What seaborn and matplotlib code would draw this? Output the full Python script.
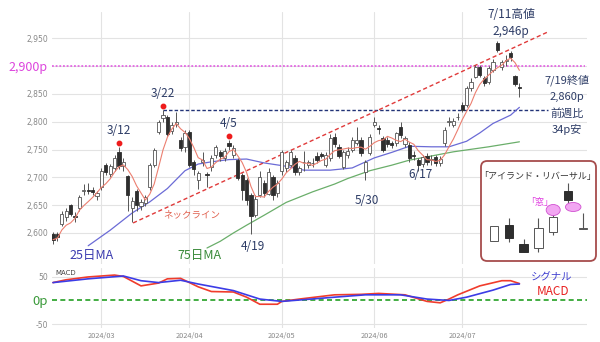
import numpy as np
import pandas as pd
import matplotlib
matplotlib.use("Agg")
import matplotlib.pyplot as plt
import seaborn as sns
from matplotlib.patches import Ellipse, FancyBboxPatch

sns.set_theme(style="whitegrid")
plt.rcParams['font.family'] = ['Noto Sans CJK JP', 'DejaVu Sans']

# ---------------- data (daily candles, trading-day index 0 = 2024/02/14) -------------
open_ = [
    2598, 2598, 2617, 2628, 2650, 2631, 2645, 2675, 2677, 2678,
    2666, 2682, 2722, 2706, 2716, 2746, 2720, 2702, 2645, 2676,
    2648, 2654, 2683, 2722, 2782, 2807, 2808, 2783, 2796, 2767,
    2755, 2782, 2728, 2695, 2728, 2706, 2719, 2740, 2745, 2735,
    2762, 2740, 2731, 2704, 2695, 2668, 2632, 2668, 2690, 2670,
    2700, 2672, 2712, 2716, 2722, 2734, 2710, 2727, 2722, 2725,
    2739, 2742, 2722, 2734, 2773, 2754, 2719, 2740, 2749, 2762,
    2767, 2710, 2743, 2794, 2789, 2770, 2767, 2761, 2761, 2791,
    2760, 2758, 2740, 2731, 2724, 2738, 2731, 2737, 2725, 2761,
    2800, 2795, 2808, 2830, 2830, 2860, 2881, 2899, 2878, 2872,
    2893, 2941, 2899, 2910, 2924, 2882, 2862]
high = [
    2602, 2601, 2640, 2645, 2653, 2638, 2668, 2688, 2690, 2682,
    2676, 2716, 2726, 2724, 2740, 2755, 2735, 2705, 2665, 2680,
    2662, 2668, 2726, 2752, 2803, 2822, 2812, 2800, 2818, 2772,
    2785, 2786, 2732, 2712, 2745, 2710, 2740, 2758, 2750, 2752,
    2768, 2758, 2735, 2708, 2698, 2672, 2668, 2712, 2696, 2716,
    2704, 2695, 2750, 2732, 2750, 2740, 2720, 2748, 2732, 2735,
    2745, 2746, 2745, 2778, 2780, 2760, 2750, 2755, 2772, 2790,
    2772, 2732, 2778, 2808, 2795, 2775, 2772, 2765, 2782, 2800,
    2775, 2763, 2748, 2735, 2740, 2743, 2741, 2741, 2738, 2790,
    2808, 2806, 2815, 2835, 2864, 2878, 2902, 2903, 2883, 2900,
    2913, 2946, 2912, 2920, 2928, 2885, 2870]
low = [
    2580, 2586, 2612, 2622, 2630, 2620, 2640, 2668, 2670, 2668,
    2660, 2678, 2705, 2700, 2712, 2715, 2712, 2640, 2620, 2640,
    2642, 2648, 2678, 2718, 2778, 2800, 2775, 2778, 2790, 2748,
    2745, 2718, 2705, 2680, 2720, 2683, 2712, 2735, 2730, 2730,
    2750, 2735, 2695, 2660, 2650, 2598, 2628, 2664, 2665, 2668,
    2660, 2665, 2705, 2710, 2718, 2705, 2705, 2712, 2716, 2718,
    2726, 2735, 2718, 2730, 2755, 2735, 2715, 2735, 2745, 2758,
    2738, 2695, 2740, 2790, 2778, 2745, 2755, 2752, 2756, 2770,
    2755, 2728, 2731, 2712, 2718, 2723, 2723, 2721, 2721, 2756,
    2792, 2790, 2803, 2818, 2826, 2855, 2878, 2880, 2865, 2868,
    2890, 2925, 2893, 2900, 2910, 2865, 2845]
close = [
    2588, 2593, 2635, 2640, 2635, 2629, 2665, 2677, 2676, 2673,
    2672, 2712, 2710, 2720, 2734, 2720, 2728, 2668, 2658, 2650,
    2656, 2664, 2722, 2749, 2800, 2812, 2778, 2795, 2800, 2752,
    2780, 2722, 2715, 2708, 2731, 2704, 2735, 2755, 2738, 2748,
    2756, 2753, 2699, 2677, 2659, 2630, 2662, 2700, 2672, 2710,
    2668, 2690, 2745, 2728, 2746, 2709, 2716, 2728, 2728, 2726,
    2731, 2739, 2740, 2770, 2760, 2739, 2746, 2748, 2767, 2768,
    2743, 2728, 2773, 2800, 2787, 2749, 2760, 2758, 2779, 2776,
    2770, 2734, 2739, 2722, 2736, 2728, 2732, 2725, 2733, 2785,
    2801, 2801, 2809, 2822, 2860, 2872, 2899, 2884, 2869, 2896,
    2908, 2929, 2907, 2911, 2917, 2868, 2860]

month_idx = [11, 31, 52, 73, 93]
month_labels = ["2024/03", "2024/04", "2024/05", "2024/06", "2024/07"]

ma25_idx = [8, 13, 18, 22, 26, 30, 33, 36, 40, 44, 48, 53, 57, 63, 68, 73, 77, 81, 86, 90, 94, 97, 100, 104, 106]
ma25_val = [2577, 2605, 2636, 2656, 2680, 2712, 2724, 2728, 2732, 2733, 2726, 2720, 2713, 2713, 2717, 2735, 2745, 2756, 2755, 2755, 2765, 2780, 2797, 2812, 2826]

ma75_idx = [35, 38, 41, 44, 48, 53, 59, 64, 67, 72, 77, 81, 91, 99, 106]
ma75_val = [2573, 2585, 2600, 2614, 2632, 2655, 2674, 2688, 2698, 2712, 2722, 2731, 2746, 2755, 2764]

macd_idx = [0, 3, 8, 14, 16, 20, 24, 26, 29, 33, 36, 41, 44, 47, 51, 52, 56, 64, 70, 74, 80, 85, 88, 90, 92, 97, 102, 104, 106]
macd_val = [38, 44, 50, 54, 51, 31, 37, 46, 47, 29, 19, 18, 7, -8, -8, -2, 3, 12, 13, 15, 12, -2, -5, 3, 12, 31, 42, 42, 36]
sig_idx = [0, 8, 16, 20, 24, 29, 33, 41, 47, 52, 56, 64, 71, 79, 85, 90, 94, 100, 104, 106]
sig_val = [38, 46, 52, 42, 38, 43, 35, 21, 3, -2, 1, 7, 12, 12, 3, 0, 7, 22, 34, 35]

price_ticks = [2600, 2650, 2700, 2750, 2800, 2850, 2900, 2950]
price_labels = ["2,600", "2,650", "2,700", "2,750", "2,800", "2,850", "2,900p", "2,950"]

peak_idx = [15, 25, 40]
peak_labels = ["3/12", "3/22", "4/5"]
neck_idx = [18.2, 112.3]
neck_val = [2618, 2961]
resist_level = 2822
resist_span = [25, 112.5]
target_level = 2900

# inset illustration (island reversal)
mini_open = [59, 75, 56, 52, 68, 109, 71]
mini_high = [74, 82, 61, 82, 91, 117, 87]
mini_low = [59, 58, 48, 48, 65, 97, 71]
mini_close = [74, 62, 48, 72, 83, 100, 71]

# ---------------- figure ----------------
W, H = 600, 342
fig = plt.figure(figsize=(6, 3.42), dpi=100)
fig.patch.set_facecolor("white")

x0_px, x1_px = 52, 587
ax = fig.add_axes([x0_px / W, 1 - 264 / H, (x1_px - x0_px) / W, 252 / H])
axm = fig.add_axes([x0_px / W, 1 - 328 / H, (x1_px - x0_px) / W, 60 / H])

def P(x, y):
    """reference pixel -> data coords of price axes (for text placement)"""
    return (x - 53) / 4.4, 2600 + (233 - y) / 0.5571

xlim = ((x0_px - 53) / 4.4, (x1_px - 53) / 4.4)
ax.set_xlim(*xlim)
ax.set_ylim(2544.2, 2997.5)
axm.set_xlim(*xlim)
axm.set_ylim(-58.5, 69)

grid_c = "#e3e3e3"
for a in (ax, axm):
    a.set_facecolor("white")
    for s in a.spines.values():
        s.set_visible(False)
    a.grid(True, color=grid_c, lw=0.8)
    a.tick_params(length=0)
    a.set_xticks(month_idx)
    a.set_axisbelow(True)

ax.set_xticklabels([])
ax.set_yticks(price_ticks)
ax.set_yticklabels(price_labels)
ax.tick_params(axis="y", pad=3, labelsize=5.5, labelcolor="#888888")
for t in ax.get_yticklabels():
    t.set_family(["DejaVu Sans"])
    if t.get_text() == "2,900p":
        t.set_color("#dd44dd")
        t.set_fontsize(9)
        t.set_family(["Noto Sans CJK JP", "DejaVu Sans"])

axm.set_xticklabels(month_labels)
axm.tick_params(axis="x", pad=3, labelsize=5.3, labelcolor="#888888")
axm.set_yticks([-50, 0, 50])
axm.set_yticklabels(["-50", "0p", "50"])
axm.tick_params(axis="y", pad=3, labelsize=5.5, labelcolor="#888888")
for t in axm.get_yticklabels():
    t.set_family(["DejaVu Sans"])
    if t.get_text() == "0p":
        t.set_color("#3a9a3a")
        t.set_fontsize(9.5)
        t.set_family(["Noto Sans CJK JP", "DejaVu Sans"])
axm.yaxis.get_gridlines()[1].set_visible(False)

# ---------------- price panel ----------------
df = pd.DataFrame({"i": np.arange(len(close)), "open": open_, "high": high,
                   "low": low, "close": close})
df["ma5"] = df["close"].rolling(5, min_periods=1).mean()

# reference lines
ax.plot([xlim[0], 120.9], [target_level] * 2, color="#e050e0", lw=1.1,
        ls=(0, (1.2, 1.2)), zorder=2)
ax.plot(resist_span, [resist_level] * 2, color="#223377", lw=1.0,
        ls=(0, (2.5, 1.5)), zorder=2)
ax.plot(neck_idx, neck_val, color="#e03a3a", lw=1.0, ls=(0, (3, 2)), zorder=2)

sns.lineplot(x=ma75_idx, y=ma75_val, ax=ax, color="#6aae6a", lw=0.9, zorder=3)
sns.lineplot(x=ma25_idx, y=ma25_val, ax=ax, color="#6b6bd6", lw=0.9, zorder=3)

# candles
up = df["close"] >= df["open"]
ax.vlines(df["i"], df["low"], df["high"], color="#555555", lw=0.7, zorder=4)
body_lo = np.minimum(df["open"], df["close"])
body_h = np.maximum(np.abs(df["close"] - df["open"]), 1.2)
ax.bar(df["i"][up], body_h[up], bottom=body_lo[up], width=0.7,
       color="white", edgecolor="#555555", lw=0.6, zorder=5)
ax.bar(df["i"][~up], body_h[~up], bottom=body_lo[~up], width=0.7,
       color="#2e2e2e", edgecolor="#2e2e2e", lw=0.6, zorder=5)

sns.lineplot(x=df["i"], y=df["ma5"], ax=ax, color="#ec7f70", lw=0.8, zorder=6)

# peak markers
for k, lab in zip(peak_idx, peak_labels):
    ax.plot(k, high[k] + 7, "o", color="#ee1c1c", ms=3.2, zorder=7)
    ax.text(k, high[k] + 18, lab, ha="center", va="bottom", fontsize=8.5,
            color="#2d3c66", zorder=8)

txt_c = "#2d3c66"
def label(x, y, s, **kw):
    xi, yp = P(x, y)
    kw.setdefault("color", txt_c)
    kw.setdefault("fontsize", 8.5)
    ax.text(xi, yp, s, ha="center", va="center", clip_on=False, zorder=8, **kw)

label(253, 247, "4/19")
label(367, 200, "5/30")
label(421, 174, "6/17")
label(511, 14, "7/11高値")
label(511, 31, "2,946p")
label(567, 80, "7/19終値", fontsize=8)
label(567, 97, "2,860p", fontsize=8)
label(567, 113, "前週比", fontsize=8)
label(567, 129, "34p安", fontsize=8)
label(192, 215, "ネックライン", color="#e0604e", fontsize=6.8)
label(92, 256, "25日MA", color="#3b3bb0", fontsize=9)
label(200, 256, "75日MA", color="#3a8a3a", fontsize=9)

# ---------------- MACD panel ----------------
axm.axhline(0, color="#22a022", lw=1.2, ls=(0, (3, 2)), zorder=2)
sns.lineplot(x=macd_idx, y=macd_val, ax=axm, color="#f03c2c", lw=1.2, zorder=3)
sns.lineplot(x=sig_idx, y=sig_val, ax=axm, color="#3c3ce6", lw=1.2, zorder=4)
axm.set_xlabel("")
axm.set_ylabel("")
ax.set_xlabel("")
ax.set_ylabel("")
axm.text(0.5, 51, "MACD", fontsize=5, color="#444444", va="bottom", ha="left",
         family=["DejaVu Sans"])
mi = lambda x: (x - 53) / 4.4
axm.text(mi(552), 50, "シグナル", fontsize=7.5, color="#4040d0", ha="center", va="center")
axm.text(mi(553), 19, "MACD", fontsize=8.5, color="#e82020", ha="center", va="center")

# ---------------- inset: island reversal ----------------
axi = fig.add_axes([480 / W, 1 - 262 / H, 117 / W, 102 / H])
axi.set_xlim((480 - 494) / 14.8, (597 - 494) / 14.8)
axi.set_ylim(38, 140)
axi.axis("off")
box = FancyBboxPatch(((481 - 494) / 14.8, 39), (596 - 481) / 14.8, 100,
                     boxstyle="round,pad=0,rounding_size=0.42",
                     mutation_aspect=14.8, facecolor="white",
                     edgecolor="#a64c4c", lw=1.3, zorder=1)
axi.add_patch(box)
mk = np.arange(len(mini_open))
mo, mc = np.array(mini_open), np.array(mini_close)
mup = mc >= mo
axi.vlines(mk, mini_low, mini_high, color="#555555", lw=0.8, zorder=2)
mb = np.minimum(mo, mc)
mh = np.maximum(np.abs(mc - mo), 0.8)
axi.bar(mk[mup], mh[mup], bottom=mb[mup], width=0.58, color="white",
        edgecolor="#555555", lw=0.7, zorder=3)
axi.bar(mk[~mup], mh[~mup], bottom=mb[~mup], width=0.58, color="#2e2e2e",
        edgecolor="#2e2e2e", lw=0.7, zorder=3)
axi.add_patch(Ellipse((4.0, 90), 0.95, 11, facecolor="#f2a6f2",
                      edgecolor="#d050d0", lw=0.6, zorder=4))
axi.add_patch(Ellipse((5.35, 93), 1.05, 9, facecolor="#f2a6f2",
                      edgecolor="#d050d0", lw=0.6, zorder=4))
axi.text(2.97, 123, "「アイランド・リバーサル」", fontsize=6.5, color="#333333",
         ha="center", va="center", zorder=5)
axi.text(3.1, 97, "「窓」", fontsize=6.5, color="#e040e0", ha="center",
         va="center", zorder=5)

fig.savefig("out.png", dpi=100, facecolor="white")
